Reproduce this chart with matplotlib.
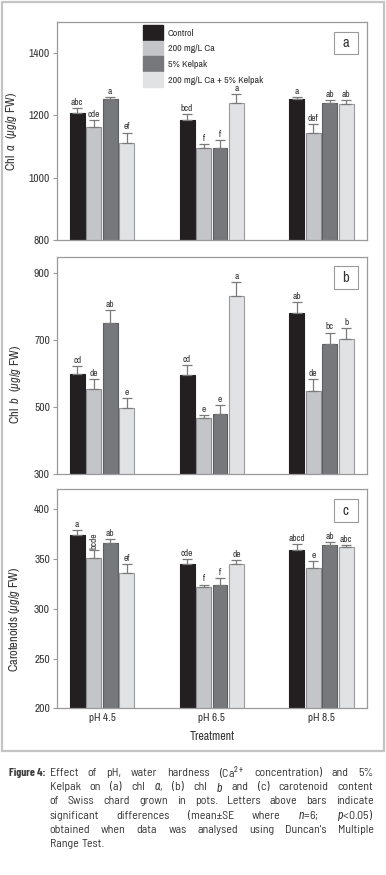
import numpy as np
import matplotlib
matplotlib.use("Agg")
import matplotlib.pyplot as plt
from matplotlib.patches import Rectangle, Patch
from matplotlib import font_manager

treatments = ["Control", "200 mg/L Ca", "5% Kelpak", "200 mg/L Ca + 5% Kelpak"]
ph_labels = ["pH 4.5", "pH 6.5", "pH 8.5"]

# one row per treatment, one column per pH
chl_a = [[1208, 1185, 1254], [1162, 1097, 1143], [1254, 1095, 1239], [1113, 1241, 1237]]
chl_a_se = [[15, 19, 4], [23, 10, 30], [5, 27, 10], [32, 28, 13]]
chl_a_let = [["abc", "bcd", "a"], ["cde", "f", "def"], ["a", "f", "ab"], ["ef", "a", "ab"]]

chl_b = [[600, 597, 783], [553, 467, 548], [751, 478, 688], [496, 832, 703]]
chl_b_se = [[24, 30, 32], [32, 8, 35], [39, 27, 35], [30, 41, 34]]
chl_b_let = [["cd", "cd", "ab"], ["de", "e", "de"], ["ab", "e", "bc"], ["e", "a", "b"]]

carot = [[374.3, 345, 359.4], [350.7, 321.6, 340.5], [366, 323.6, 364.5], [335.8, 345, 362.5]]
carot_se = [[4.7, 4.8, 5.4], [8, 2.7, 7.8], [4, 7.4, 2.7], [9.5, 4.3, 1.5]]
carot_let = [["a", "cde", "abcd"], ["bcde", "f", "e"], ["ab", "f", "ab"], ["ef", "de", "abc"]]

colors = ["#231f20", "#c4c5c9", "#77787c", "#e1e2e4"]
edges = ["#231f20", "#8e8e92", "#5e5e62", "#9a9a9e"]

# narrow faces, like the Helvetica Condensed of the original
names = {f.name for f in font_manager.fontManager.ttflist}


def pick(options, default):
    for c in options:
        if c in names:
            return c
    return default


FONT = pick(["Liberation Sans Narrow", "Archivo Narrow", "Barlow Semi Condensed"], "DejaVu Sans")
if FONT == "DejaVu Sans":
    plt.rcParams["font.stretch"] = "condensed"
CAPFONT = pick(["Liberation Sans Narrow", "Barlow Semi Condensed"], FONT)
BOLD = pick(["Liberation Sans Narrow", "Barlow Condensed", "Barlow Semi Condensed"], FONT)

plt.rcParams["font.family"] = [FONT, "DejaVu Sans"]
plt.rcParams["mathtext.fontset"] = "custom"
plt.rcParams["mathtext.rm"] = FONT
plt.rcParams["mathtext.it"] = FONT + ":italic"
plt.rcParams["mathtext.bf"] = FONT + ":bold"
txtc = "#333333"

W, H = 386, 875
fig = plt.figure(figsize=(W / 100, H / 100), dpi=100)
renderer = fig.canvas.get_renderer()


def width_at10(s, **kw):
    t = fig.text(0, 0, s, fontsize=10, **kw)
    w = t.get_window_extent(renderer).width
    t.remove()
    return w


def fit(s, px, **kw):
    # font size that gives the string the width it has in the original
    return 10 * px / width_at10(s, **kw)


fs_tick = fit("1400", 20.7)
fs_xtick = fit("pH 4.5", 26.7)
fs_let = fit("abcd", 16.7)
fs_leg = fit("200 mg/L Ca + 5% Kelpak", 95)
fs_ylab = fit(r"Carotenoids ($\mu g/g$ FW)", 105)
fs_xlab = fit("Treatment", 45)


def axes_px(top, bottom, left=57, right=366.5):
    return fig.add_axes([left / W, 1 - bottom / H, (right - left) / W, (bottom - top) / H])


panels = [
    dict(top=22, bottom=240, data=chl_a, se=chl_a_se, let=chl_a_let, ylim=(800, 1500),
         yt=[800, 1000, 1200, 1400], yl=r"Chl  $a$  ($\mu g/g$ FW)", tag="a", lx=-0.122, ly=0.5),
    dict(top=256.7, bottom=474, data=chl_b, se=chl_b_se, let=chl_b_let, ylim=(300, 950),
         yt=[300, 500, 700, 900], yl=r"Chl  $b$  ($\mu g/g$ FW)", tag="b", lx=-0.109, ly=0.414),
    dict(top=489.3, bottom=708.3, data=carot, se=carot_se, let=carot_let, ylim=(200, 420),
         yt=[200, 250, 300, 350, 400], yl=r"Carotenoids ($\mu g/g$ FW)", tag="c", lx=-0.114, ly=0.408),
]

x = np.arange(len(ph_labels))
step, width = 0.15, 0.136

for k, p in enumerate(panels):
    ax = axes_px(p["top"], p["bottom"])
    for i in range(len(treatments)):
        xs = x + (i - 1.5) * step
        ax.bar(xs, p["data"][i], width, color=colors[i], edgecolor=edges[i], linewidth=0.8,
               zorder=2, label=treatments[i])
        ax.errorbar(xs, p["data"][i], yerr=[np.zeros(3), p["se"][i]], fmt="none",
                    ecolor="#7a7a7a", elinewidth=0.9, capsize=3.5, capthick=0.9, zorder=3)
        for j in range(len(x)):
            top = p["data"][i][j] + p["se"][i][j]
            rot = 90 if (k == 2 and i == 1 and j == 0) else 0
            ax.annotate(p["let"][i][j], (xs[j], top), xytext=(0, 0.8), textcoords="offset points",
                        ha="center", va="bottom", fontsize=fs_let, color=txtc, rotation=rot)
    ax.set_xlim(-0.41, 2.41)
    ax.set_ylim(*p["ylim"])
    ax.set_yticks(p["yt"])
    for s in ax.spines.values():
        s.set_color("#9a9a9a")
        s.set_linewidth(0.9)
    ax.tick_params(axis="y", direction="out", length=3, color="#9a9a9a", labelsize=fs_tick,
                   labelcolor=txtc, pad=2)
    ax.tick_params(axis="x", length=0, labelsize=fs_xtick, labelcolor=txtc, pad=3.5)
    ax.set_xticks(x)
    if k == 2:
        ax.set_xticklabels(ph_labels)
        ax.set_xlabel("Treatment", fontsize=fs_xlab, color=txtc, labelpad=6)
    else:
        ax.set_xticklabels([])
    ax.set_ylabel(p["yl"], fontsize=fs_ylab, color=txtc)
    ax.yaxis.set_label_coords(p["lx"], p["ly"])
    # panel tag box
    ax.add_patch(Rectangle((0.895, 0.852), 0.077, 0.103, transform=ax.transAxes,
                           facecolor="white", edgecolor="#9a9a9a", linewidth=0.8, zorder=5))
    ax.text(0.9335, 0.903, p["tag"], transform=ax.transAxes, ha="center", va="center",
            fontsize=10.5, color=txtc, zorder=6)
    if k == 0:
        fpx = fs_leg * 100 / 72
        handles = [Patch(facecolor=colors[i], edgecolor=colors[i]) for i in range(4)]
        ax.legend(handles, treatments, loc="upper left", bbox_to_anchor=(0.277, 0.985),
                  frameon=False, fontsize=fs_leg, handlelength=20.6 / fpx,
                  handleheight=(14.7 / fpx - 0.245) / 0.65, labelspacing=0.9 / fpx,
                  handletextpad=4.7 / fpx, borderpad=0, borderaxespad=0, labelcolor=txtc)

# outer frame
fig.patches.append(Rectangle((2 / W, 1 - 751 / H), 382 / W, 749 / H, transform=fig.transFigure,
                             fill=False, edgecolor="#c4c4c4", linewidth=1.6))

# caption, justified line by line
cap_lines = [
    "Effect of pH, water hardness (Ca$^{2+}$ concentration) and 5%",
    "Kelpak on (a) chl $a$, (b) chl $b$ and (c) carotenoid content",
    "of Swiss chard grown in pots. Letters above bars indicate",
    "significant differences (mean±SE where $n$=6; $p$<0.05)",
    "obtained when data was analysed using Duncan's Multiple",
    "Range Test.",
]
x0, x1 = 49.5, 373.5
# size chosen so the justified lines keep word gaps of about 7 px, as in the original
natural = sum(width_at10(w, family=[CAPFONT, FONT]) for line in cap_lines[:-1] for w in line.split(" "))
target = sum((x1 - x0) - 7 * (len(line.split(" ")) - 1) for line in cap_lines[:-1])
fs_cap = min(10 * target / natural, 8.6)
fs_fig = min(fs_cap, fit("Figure 4:", 37, family=[BOLD, FONT], fontweight="bold"))

fig.text(9 / W, 1 - 773 / H, "Figure 4:", fontsize=fs_fig, fontweight="bold", color="#3a3a3a",
         family=[BOLD, FONT], va="center", ha="left")
for n, line in enumerate(cap_lines):
    y = 1 - (773 + n * 14.2) / H
    words = line.split(" ")
    ts = [fig.text(0, y, w, fontsize=fs_cap, color=txtc, va="center", ha="left",
                   family=[CAPFONT, FONT]) for w in words]
    widths = [t.get_window_extent(renderer).width for t in ts]
    if n < len(cap_lines) - 1 and len(words) > 1:
        gap = (x1 - x0 - sum(widths)) / (len(words) - 1)
    else:
        gap = 3.5
    pos = x0
    for t, w in zip(ts, widths):
        t.set_x(pos / W)
        pos += w + gap

fig.savefig("out.png", dpi=100)
